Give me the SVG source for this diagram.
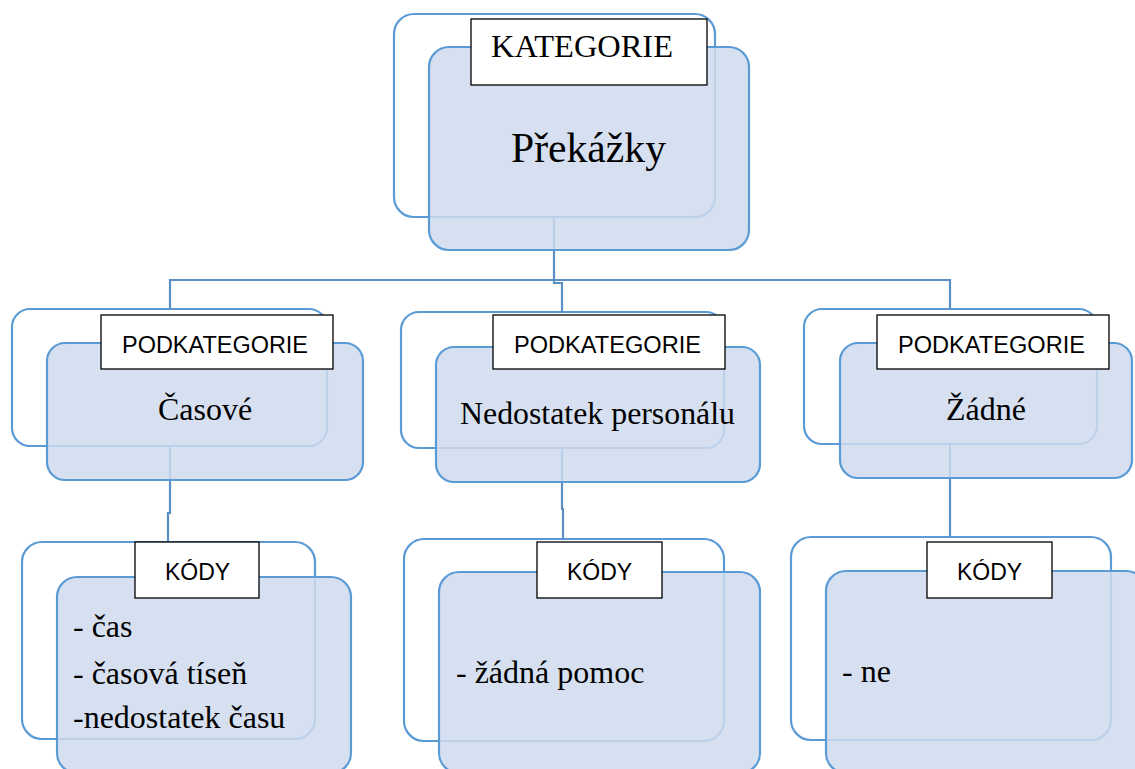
<svg xmlns="http://www.w3.org/2000/svg" width="1135" height="769" viewBox="0 0 1135 769">
  <style>
    .back { fill: none; stroke: #5B9BD5; stroke-width: 2.2; }
    .front { fill: #CFDBED; fill-opacity: 0.85; stroke: #5B9BD5; stroke-width: 2.2; }
    .tag { fill: #FFFFFF; stroke: #000000; stroke-width: 1.3; }
    .wire { fill: none; stroke: #5A8FC6; stroke-width: 2.2; }
    .serif { font-family: "Liberation Serif", "Times New Roman", serif; fill: #000000; }
    .sans { font-family: "Liberation Sans", Arial, sans-serif; fill: #000000; }
  </style>

  <!-- back outlines -->
  <g id="outlines">
    <rect class="back" x="394" y="14" width="321" height="203" rx="20"/>
    <rect class="back" x="12" y="309" width="315" height="137" rx="18"/>
    <rect class="back" x="401" y="312" width="323" height="136" rx="18"/>
    <rect class="back" x="804" y="309" width="293" height="135" rx="18"/>
    <rect class="back" x="22" y="542" width="293" height="197" rx="20"/>
    <rect class="back" x="404" y="539" width="320" height="202" rx="20"/>
    <rect class="back" x="791" y="537" width="320" height="203" rx="20"/>
  </g>

  <!-- connectors -->
  <g id="connectors">
    <path class="wire" d="M554 217 V283 H562 V312"/>
    <path class="wire" d="M170 309 V280 H950 V309"/>
    <path class="wire" d="M170 446 V513 H168 V542"/>
    <path class="wire" d="M562 448 V509 H563 V539"/>
    <path class="wire" d="M950 444 V537"/>
  </g>

  <!-- category -->
  <g id="kategorie">
    <rect class="front" x="429" y="47" width="320" height="203" rx="20"/>
    <rect class="tag" x="471" y="19" width="236" height="66"/>
    <text class="serif" x="491" y="57" font-size="31.5" textLength="182" lengthAdjust="spacingAndGlyphs">KATEGORIE</text>
    <text class="serif" x="511" y="162" font-size="42" textLength="155" lengthAdjust="spacingAndGlyphs">Překážky</text>
  </g>

  <!-- subcategories -->
  <g id="podkategorie-casove">
    <rect class="front" x="47" y="343" width="316" height="137" rx="18"/>
    <rect class="tag" x="101" y="315" width="232" height="54"/>
    <text class="sans" x="122" y="353" font-size="23" textLength="186" lengthAdjust="spacingAndGlyphs">PODKATEGORIE</text>
    <text class="serif" x="158" y="420" font-size="32">Časové</text>
  </g>

  <g id="podkategorie-personal">
    <rect class="front" x="436" y="347" width="324" height="135" rx="18"/>
    <rect class="tag" x="493" y="315" width="232" height="54"/>
    <text class="sans" x="514" y="353" font-size="23" textLength="187" lengthAdjust="spacingAndGlyphs">PODKATEGORIE</text>
    <text class="serif" x="460" y="424" font-size="32" textLength="275" lengthAdjust="spacingAndGlyphs">Nedostatek personálu</text>
  </g>

  <g id="podkategorie-zadne">
    <rect class="front" x="840" y="343" width="292" height="135" rx="18"/>
    <rect class="tag" x="877" y="315" width="232" height="54"/>
    <text class="sans" x="898" y="353" font-size="23" textLength="187" lengthAdjust="spacingAndGlyphs">PODKATEGORIE</text>
    <text class="serif" x="946" y="420" font-size="32">Žádné</text>
  </g>

  <!-- codes -->
  <g id="kody-casove">
    <rect class="front" x="57" y="577" width="294" height="196" rx="20"/>
    <rect class="tag" x="135" y="542" width="124" height="56"/>
    <text class="sans" x="165" y="580" font-size="23">KÓDY</text>
    <text class="serif" x="73" y="637" font-size="32">- čas</text>
    <text class="serif" x="73" y="684" font-size="32">- časová tíseň</text>
    <text class="serif" x="73" y="728" font-size="32">-nedostatek času</text>
  </g>

  <g id="kody-personal">
    <rect class="front" x="439" y="572" width="321" height="201" rx="20"/>
    <rect class="tag" x="537" y="542" width="125" height="56"/>
    <text class="sans" x="567" y="580" font-size="23">KÓDY</text>
    <text class="serif" x="456" y="683" font-size="32">- žádná pomoc</text>
  </g>

  <g id="kody-zadne">
    <rect class="front" x="826" y="571" width="320" height="202" rx="20"/>
    <rect class="tag" x="927" y="542" width="125" height="56"/>
    <text class="sans" x="957" y="580" font-size="23">KÓDY</text>
    <text class="serif" x="842" y="682" font-size="32">- ne</text>
  </g>
</svg>
